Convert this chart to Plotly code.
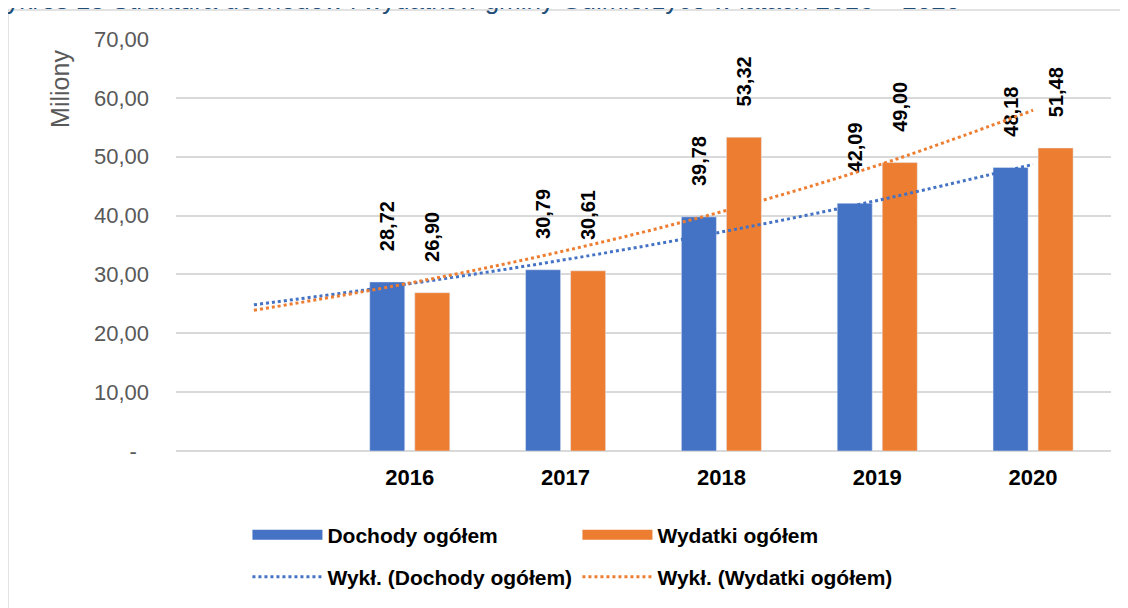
import plotly.graph_objects as go

# values (millions PLN)
YEARS = ["2016", "2017", "2018", "2019", "2020"]
DOCHODY = [28.72, 30.79, 39.78, 42.09, 48.18]
WYDATKI = [26.90, 30.61, 53.32, 49.00, 51.48]

# exponential trend lines as drawn by Excel (one blank category before 2016)
TREND_CATS = [" "] + YEARS
TREND_DOCHODY = [24.84, 28.42, 32.52, 37.21, 42.57, 48.70]
TREND_WYDATKI = [23.90, 28.53, 34.05, 40.65, 48.51, 57.89]

Y_TICKS = [0, 10, 20, 30, 40, 50, 60, 70]
Y_TICK_TEXT = ["-\u00a0\u00a0", "10,00", "20,00", "30,00", "40,00", "50,00", "60,00", "70,00"]

TITLE = "Wykres 13 Struktura dochodów i wydatków gminy Gulmierzyce w latach 2016 – 2020"

BLUE = "#4472C4"
ORANGE = "#ED7D31"
GRID = "#D9D9D9"
FONT = "Liberation Sans, Arial, sans-serif"


def pl(v):
    # leading no-break spaces keep the rotated label clear of the bar top
    return "\u00a0" * 5 + f"{v:.2f}".replace(".", ",")


label_font = dict(family=FONT, size=20, color="#000000", weight="bold")

fig = go.Figure()
fig.add_trace(go.Bar(
    x=YEARS, y=DOCHODY, name="Dochody ogółem", marker_color=BLUE,
    text=[pl(v) for v in DOCHODY], textposition="outside", textangle=-90,
    textfont=label_font, cliponaxis=False, constraintext="none",
    showlegend=False,
))
fig.add_trace(go.Bar(
    x=YEARS, y=WYDATKI, name="Wydatki ogółem", marker_color=ORANGE,
    text=[pl(v) for v in WYDATKI], textposition="outside", textangle=-90,
    textfont=label_font, cliponaxis=False, constraintext="none",
    showlegend=False,
))
# legend-only entries so the swatches come out as wide blocks like in Excel
fig.add_trace(go.Scatter(
    x=[None], y=[None], mode="lines", name="Dochody ogółem",
    line=dict(color=BLUE, width=14), legend="legend",
))
fig.add_trace(go.Scatter(
    x=[None], y=[None], mode="lines", name="Wydatki ogółem",
    line=dict(color=ORANGE, width=14), legend="legend",
))
fig.add_trace(go.Scatter(
    x=TREND_CATS, y=TREND_DOCHODY, mode="lines", name="Wykł. (Dochody ogółem)",
    line=dict(color=BLUE, width=3, dash="dot", shape="spline"),
    legend="legend2",
))
fig.add_trace(go.Scatter(
    x=TREND_CATS, y=TREND_WYDATKI, mode="lines", name="Wykł. (Wydatki ogółem)",
    line=dict(color=ORANGE, width=3, dash="dot", shape="spline"),
    legend="legend2",
))

legend_common = dict(
    orientation="h", xanchor="left", yanchor="middle",
    font=dict(family=FONT, size=21, color="#000000", weight="bold"),
    bgcolor="rgba(0,0,0,0)", itemwidth=70, entrywidth=245,
    traceorder="normal",
)

fig.update_layout(
    width=1128, height=608,
    margin=dict(l=168, r=25, t=31, b=165),
    plot_bgcolor="#FFFFFF", paper_bgcolor="#FFFFFF",
    font=dict(family=FONT, size=21, color="#595959"),
    barmode="group", bargap=0.422, bargroupgap=0.222,
    showlegend=True,
    legend=dict(x=0.0764, y=-0.204, **legend_common),
    legend2=dict(x=0.0764, y=-0.306, **legend_common),
    xaxis=dict(
        type="category", categoryorder="array", categoryarray=TREND_CATS,
        range=[-0.5, 5.5],
        showgrid=False, showline=False, zeroline=False, ticks="",
        ticklabelstandoff=11,
        tickfont=dict(family=FONT, size=22, color="#000000", weight="bold"),
        fixedrange=True,
    ),
    yaxis=dict(
        range=[0, 70], tickvals=Y_TICKS, ticktext=Y_TICK_TEXT,
        showgrid=True, gridcolor=GRID, gridwidth=1.5,
        zeroline=True, zerolinecolor=GRID, zerolinewidth=1.5,
        showline=False, ticks="", ticklabelstandoff=26,
        tickfont=dict(family=FONT, size=22, color="#595959"),
        fixedrange=True,
    ),
    annotations=[
        dict(text=TITLE, xref="paper", yref="paper", x=-0.2097, y=1.0546,
             xanchor="left", yanchor="bottom", showarrow=False,
             font=dict(family=FONT, size=26, color="#1F4E79")),
        dict(text="Miliony", xref="paper", yref="paper", x=-0.124, y=0.879,
             xanchor="center", yanchor="middle", textangle=-90, showarrow=False,
             font=dict(family=FONT, size=25, color="#595959")),
    ],
    shapes=[
        dict(type="rect", xref="paper", yref="paper", x0=-0.1797, x1=1.05,
             y0=-0.45, y1=1.0704, line=dict(color=GRID, width=1.5),
             fillcolor="rgba(0,0,0,0)", layer="below"),
    ],
)

fig.write_html("out.html")
